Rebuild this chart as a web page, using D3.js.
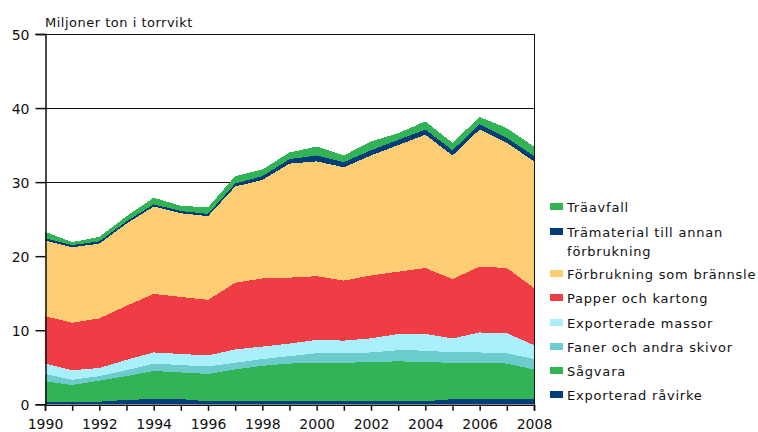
<!DOCTYPE html>
<html lang="sv">
<head>
    <meta charset="UTF-8">
    <title>Miljoner ton i torrvikt</title>
    <script src="https://d3js.org/d3.v7.min.js"></script>
    <style>
        body { margin: 0; background: #fff; }
        text { font-family: "DejaVu Sans", Verdana, sans-serif; fill: #111; }
    </style>
</head>
<body>
<script>

    // data (millions of tonnes, dry weight)
    var years = d3.range(1990, 2009)
    var exportRavirke = [0.3,0.3,0.35,0.6,0.7,0.7,0.4,0.4,0.4,0.4,0.4,0.4,0.4,0.4,0.4,0.7,0.7,0.7,0.7]
    var sagvara = [2.8,2.3,2.85,3.2,3.8,3.6,3.7,4.3,4.8,5.1,5.2,5.2,5.3,5.4,5.3,4.9,4.9,4.8,4.0]
    var faner = [1.0,0.7,0.6,0.8,1.0,1.0,1.0,0.9,0.9,1.0,1.3,1.3,1.3,1.5,1.55,1.4,1.4,1.4,1.4]
    var massor = [1.4,1.3,1.1,1.4,1.5,1.5,1.5,1.8,1.7,1.7,1.8,1.7,1.9,2.2,2.25,1.9,2.7,2.7,1.9]
    var papper = [6.4,6.4,6.7,7.3,7.9,7.7,7.5,9.0,9.2,8.9,8.6,8.1,8.5,8.4,8.9,8.0,8.9,8.8,7.7]
    var bransle = [10.2,10.2,10.1,11.1,11.8,11.3,11.3,13.0,13.3,15.4,15.5,15.3,16.2,17.1,18.0,16.7,18.5,16.9,17.1]
    var tramaterial = [0.3,0.3,0.3,0.3,0.3,0.3,0.3,0.4,0.5,0.6,0.8,0.7,0.7,0.7,0.7,0.7,0.7,0.7,0.7]
    var traavfall = [0.9,0.4,0.6,0.7,0.9,0.7,0.9,1.0,0.9,0.9,1.2,0.9,1.2,0.9,1.1,1.0,1.0,1.3,1.3]

    var yTicks = [0, 10, 20, 30, 40, 50]
    var xLabels = d3.range(1990, 2009, 2)

    // stack order bottom -> top
    var series = [
        {key: 'Exporterad råvirke', vals: exportRavirke, color: '#003d7a'},
        {key: 'Sågvara', vals: sagvara, color: '#31b356'},
        {key: 'Faner och andra skivor', vals: faner, color: '#6ccbcb'},
        {key: 'Exporterade massor', vals: massor, color: '#aaf0fc'},
        {key: 'Papper och kartong', vals: papper, color: '#f03c44'},
        {key: 'Förbrukning som brännsle', vals: bransle, color: '#fdcd73'},
        {key: 'Trämaterial till annan|förbrukning', vals: tramaterial, color: '#003d7a'},
        {key: 'Träavfall', vals: traavfall, color: '#31b356'}
    ]

    var rows = years.map(function(y, i) {
        var r = {year: y}
        series.forEach(function(s) { r[s.key] = s.vals[i] })
        return r
    })

    var w = 758, h = 432
    var svg = d3.select('body').append('svg')
        .attr('width', w)
        .attr('height', h)

    var xScale = d3.scaleLinear().domain([1990, 2008]).range([45, 534])
    var yScale = d3.scaleLinear().domain([0, 50]).range([404.3, 34])

    //gridlines
    svg.append('g').selectAll('line')
        .data(yTicks.slice(1))
        .enter().append('line')
        .attr('x1', 45).attr('x2', 534)
        .attr('y1', d => Math.round(yScale(d)) + 0.5)
        .attr('y2', d => Math.round(yScale(d)) + 0.5)
        .attr('stroke', '#111')

    //areas
    var stack = d3.stack().keys(series.map(s => s.key))
    var layers = stack(rows)

    var area = d3.area()
        .x(d => xScale(d.data.year))
        .y0(d => yScale(d[0]))
        .y1(d => yScale(d[1]))

    svg.append('g').selectAll('path')
        .data(layers)
        .enter().append('path')
        .attr('d', area)
        .attr('fill', (d, i) => series[i].color)
        .attr('shape-rendering', 'crispEdges')

    //right border
    svg.append('line')
        .attr('x1', 534.5).attr('x2', 534.5)
        .attr('y1', yScale(50)).attr('y2', yScale(0))
        .attr('stroke', '#111')

    //axes
    var yAxis = d3.axisLeft(yScale)
        .tickValues(yTicks)
        .tickSize(10)
        .tickPadding(6)
    var gy = svg.append('g')
        .attr('transform', 'translate(45.5,0)')
        .call(yAxis)

    var xAxis = d3.axisBottom(xScale)
        .tickValues(years)
        .tickSize(6)
        .tickPadding(8)
        .tickFormat(d => xLabels.indexOf(d) >= 0 ? d : '')
    var gx = svg.append('g')
        .attr('transform', 'translate(0,' + (yScale(0) + 0.5) + ')')
        .call(xAxis)

    svg.selectAll('.domain').attr('stroke', '#111').attr('stroke-width', 1.5)
    svg.selectAll('.tick line').attr('stroke', '#111').attr('stroke-width', 1.5)
    svg.selectAll('.tick text')
        .style('font-family', '"DejaVu Sans", Verdana, sans-serif')
        .style('font-size', '14px')
        .attr('fill', '#111')
    gy.selectAll('.tick text').attr('dy', '0.36em')

    //title
    svg.append('text')
        .attr('x', 45)
        .attr('y', 27)
        .style('font-size', '13px')
        .style('letter-spacing', '0.5px')
        .text('Miljoner ton i torrvikt')

    //legend (top item first)
    var legendItems = series.slice().reverse()
    var legendY = [207, 232, 274, 298, 323, 347, 371, 395]
    var lg = svg.append('g')
    legendItems.forEach(function(s, i) {
        var yy = legendY[i]
        lg.append('rect')
            .attr('x', 550).attr('y', yy - 4)
            .attr('width', 13).attr('height', 7)
            .attr('fill', s.color)
        var parts = s.key.split('|')
        parts.forEach(function(p, j) {
            lg.append('text')
                .attr('x', 567)
                .attr('y', yy + 5 + j * 19)
                .style('font-size', '13px')
                .style('letter-spacing', '0.8px')
                .text(p)
        })
    })

</script>
</body>
</html>
